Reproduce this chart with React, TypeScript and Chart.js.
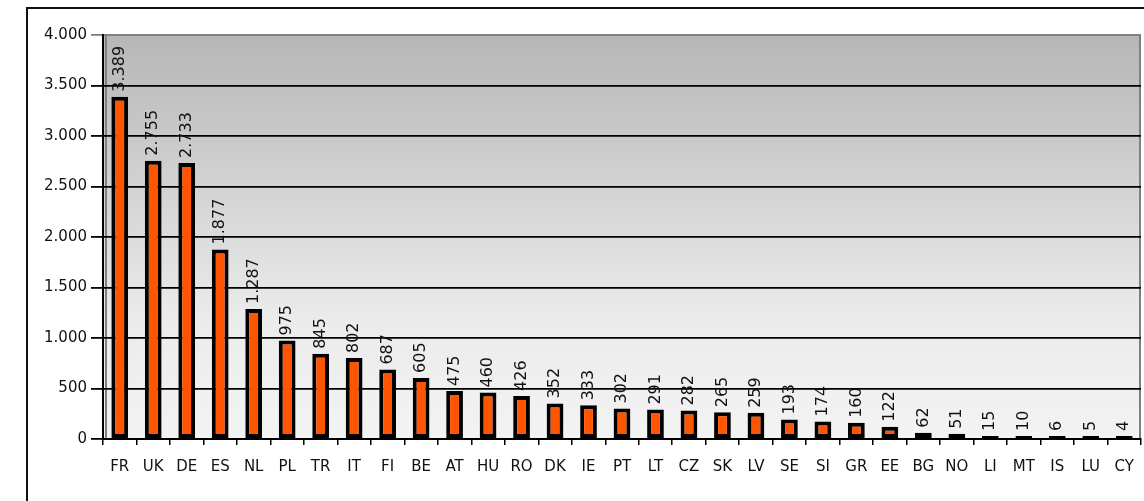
import React, { useEffect, useRef } from "react";
import { Chart, registerables } from "chart.js";

Chart.register(...registerables);

const categories = ["FR","UK","DE","ES","NL","PL","TR","IT","FI","BE","AT","HU","RO","DK","IE","PT","LT","CZ","SK","LV","SE","SI","GR","EE","BG","NO","LI","MT","IS","LU","CY"];
const values = [3389,2755,2733,1877,1287,975,845,802,687,605,475,460,426,352,333,302,291,282,265,259,193,174,160,122,62,51,15,10,6,5,4];
const yTicks = [0,500,1000,1500,2000,2500,3000,3500,4000];

const FONT = "'DejaVu Sans', 'Liberation Sans', sans-serif";

function fmt(v: number): string {
  const s = Math.round(v).toString();
  return s.replace(/\B(?=(\d{3})+(?!\d))/g, ".");
}

const bgPlugin = {
  id: "bgPlugin",
  beforeDraw(chart: any) {
    const { ctx, chartArea } = chart;
    const { left, top, right, bottom } = chartArea;
    const g = ctx.createLinearGradient(0, top, 0, bottom);
    g.addColorStop(0, "#b6b6b6");
    g.addColorStop(0.7, "#ebebeb");
    g.addColorStop(1, "#f3f3f3");
    ctx.save();
    ctx.fillStyle = g;
    ctx.fillRect(left, top, right - left, bottom - top);
    ctx.strokeStyle = "#808080";
    ctx.lineWidth = 2;
    ctx.beginPath();
    ctx.moveTo(left + 3, bottom);
    ctx.lineTo(left + 3, top);
    ctx.lineTo(right - 1, top);
    ctx.lineTo(right - 1, bottom);
    ctx.stroke();
    ctx.restore();
  },
};

const labelPlugin = {
  id: "labelPlugin",
  afterDatasetsDraw(chart: any) {
    const { ctx } = chart;
    const meta = chart.getDatasetMeta(0);
    ctx.save();
    ctx.font = `16px ${FONT}`;
    ctx.fillStyle = "#111";
    ctx.textAlign = "left";
    ctx.textBaseline = "middle";
    meta.data.forEach((el: any, i: number) => {
      ctx.save();
      ctx.translate(el.x, el.y - 5);
      ctx.rotate(-Math.PI / 2);
      ctx.fillText(fmt(values[i]), 0, 0);
      ctx.restore();
    });
    ctx.restore();
  },
};

export default function App() {
  const ref = useRef<HTMLCanvasElement | null>(null);
  useEffect(() => {
    if (!ref.current) return;
    const chart = new Chart(ref.current, {
      type: "bar",
      data: {
        labels: categories,
        datasets: [
          {
            data: values,
            backgroundColor: "#ff5500",
            borderColor: "#000",
            borderWidth: 4,
            borderSkipped: false,
            barPercentage: 0.5,
            categoryPercentage: 1,
            minBarLength: 3,
          },
        ],
      },
      options: {
        animation: false,
        responsive: false,
        devicePixelRatio: 1,
        layout: { padding: { top: 25, right: 3, left: 0, bottom: 0 } },
        plugins: { legend: { display: false }, tooltip: { enabled: false } },
        scales: {
          x: {
            afterFit: (s: any) => { s.height = 62; s.paddingRight = 0; },
            grid: {
              display: true,
              drawOnChartArea: false,
              drawTicks: true,
              tickLength: 6,
              color: "#000",
              lineWidth: 1.5,
              offset: true,
            },
            border: { color: "#000", width: 2 },
            ticks: {
              color: "#111",
              font: { family: FONT, size: 15 },
              padding: 13,
              maxRotation: 0,
              autoSkip: false,
            },
          },
          y: {
            min: 0,
            max: 4000,
            afterFit: (s: any) => { s.width = 74; },
            afterBuildTicks: (s: any) => { s.ticks = yTicks.map((v) => ({ value: v })); },
            grid: {
              color: (c: any) => (c.tick && c.tick.value === 4000 ? "#808080" : "#000"),
              lineWidth: 1.8,
              tickLength: 12,
              drawTicks: true,
            },
            border: { color: "#000", width: 2 },
            ticks: {
              color: "#111",
              font: { family: FONT, size: 15 },
              padding: 4,
              callback: (v: any) => fmt(Number(v)),
            },
          },
        },
      },
      plugins: [bgPlugin, labelPlugin],
    });
    return () => chart.destroy();
  }, []);

  return (
    <div style={{ position: "fixed", left: 0, top: 0, width: 1144, height: 501, overflow: "hidden", background: "#fff" }}>
      <div style={{ position: "absolute", left: 26, top: 7, width: 1200, height: 540, border: "2px solid #111" }} />
      <canvas ref={ref} width={1115} height={491} style={{ position: "absolute", left: 29, top: 10, width: 1115, height: 491 }} />
    </div>
  );
}
